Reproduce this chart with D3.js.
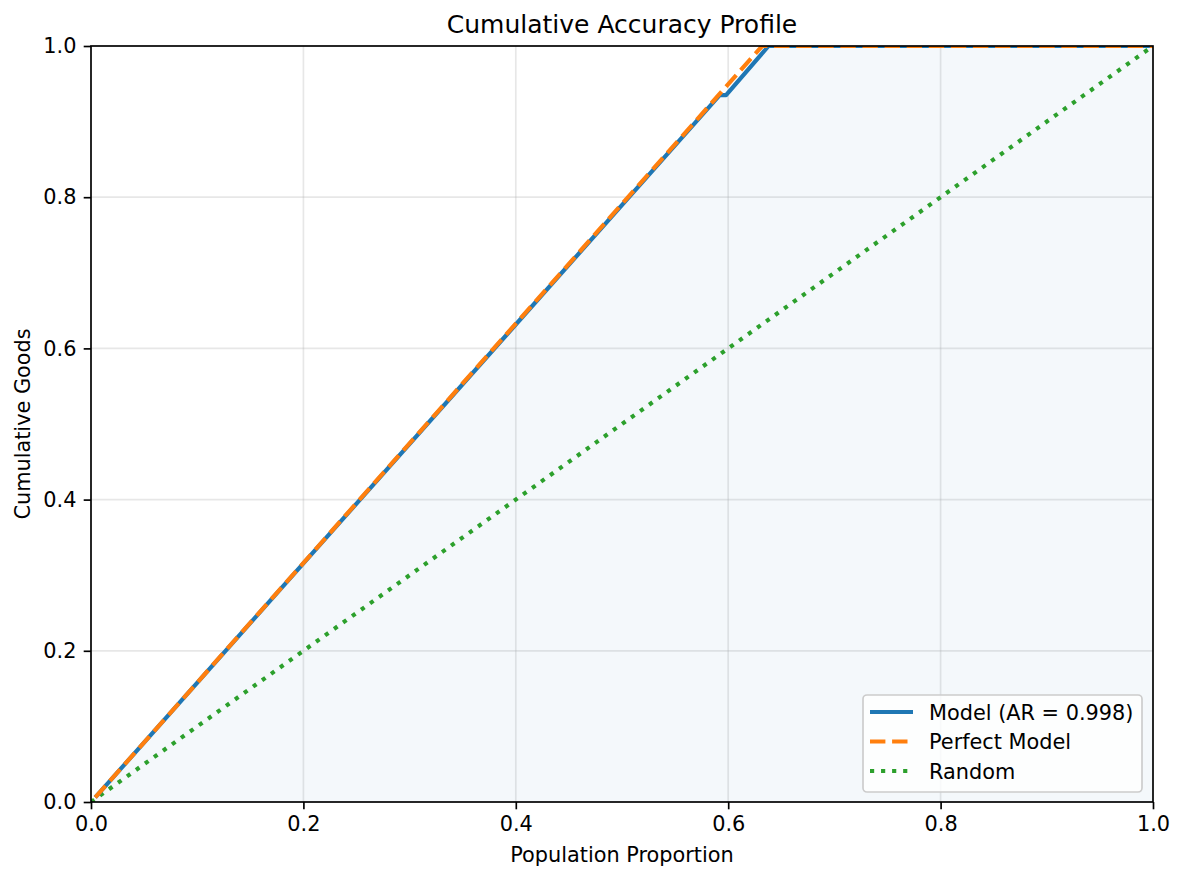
<!DOCTYPE html>
<html>
<head>
<meta charset="utf-8">
<script src="https://cdn.jsdelivr.net/npm/d3@7"></script>
<style>
  body { margin: 0; background: #fff; }
  svg text { font-family: "DejaVu Sans", sans-serif; fill: #000; }
</style>
</head>
<body>
<div id="chart"></div>
<script>
// dati (proporzione popolazione, goods cumulati)
const modelX   = [0.004, 0.592, 0.598, 0.638, 1.0];
const modelY   = [0.006, 0.935, 0.935, 1.0, 1.0];
const perfectX = [0.004, 0.632, 1.0];
const perfectY = [0.006, 1.0, 1.0];
const randomX  = [0.0, 1.0];
const randomY  = [0.0, 1.0];
const tickVals = [0, 0.2, 0.4, 0.6, 0.8, 1.0];
const legendLabels = ['Model (AR = 0.998)', 'Perfect Model', 'Random'];

const W = 1184, H = 881;
const margin = { left: 91, right: 31, top: 46, bottom: 79 };
const width = W - margin.left - margin.right;
const height = H - margin.top - margin.bottom;
const fs = 20.83;

const svg = d3.select('#chart').append('svg')
    .attr('width', W).attr('height', H);

const g = svg.append('g')
    .attr('transform', `translate(${margin.left},${margin.top})`);

const x = d3.scaleLinear().domain([0, 1]).range([0, width]);
const y = d3.scaleLinear().domain([0, 1]).range([height, 0]);

const zip = (xs, ys) => xs.map((v, i) => [v, ys[i]]);
const line = d3.line().x(d => x(d[0])).y(d => y(d[1]));

// griglia
g.append('g').selectAll('line.gx').data(tickVals).join('line')
    .attr('x1', d => x(d)).attr('x2', d => x(d))
    .attr('y1', 0).attr('y2', height)
    .attr('stroke', '#b0b0b0').attr('stroke-opacity', 0.3).attr('stroke-width', 1.67);
g.append('g').selectAll('line.gy').data(tickVals).join('line')
    .attr('y1', d => y(d)).attr('y2', d => y(d))
    .attr('x1', 0).attr('x2', width)
    .attr('stroke', '#b0b0b0').attr('stroke-opacity', 0.3).attr('stroke-width', 1.67);

// area sotto il modello
const area = d3.area().x(d => x(d[0])).y0(y(0)).y1(d => y(d[1]));
g.append('path')
    .datum([[0, 0]].concat(zip(modelX, modelY)))
    .attr('d', area)
    .attr('fill', '#1f77b4').attr('fill-opacity', 0.05);

const clip = svg.append('clipPath').attr('id', 'clip')
    .append('rect').attr('width', width).attr('height', height);

const lines = g.append('g').attr('clip-path', 'url(#clip)');

lines.append('path').datum(zip(randomX, randomY)).attr('d', line)
    .attr('fill', 'none').attr('stroke', '#2ca02c').attr('stroke-width', 4.17)
    .attr('stroke-dasharray', '4.17,6.88');

lines.append('path').datum(zip(modelX, modelY)).attr('d', line)
    .attr('fill', 'none').attr('stroke', '#1f77b4').attr('stroke-width', 4.17)
    .attr('stroke-linejoin', 'round');

lines.append('path').datum(zip(perfectX, perfectY)).attr('d', line)
    .attr('fill', 'none').attr('stroke', '#ff7f0e').attr('stroke-width', 4.17)
    .attr('stroke-dasharray', '15.4,6.7');

// assi
const xAxis = g.append('g').attr('transform', `translate(0,${height})`)
    .call(d3.axisBottom(x).tickValues(tickVals).tickFormat(d3.format('.1f'))
        .tickSize(7.3).tickPadding(7.3));
const yAxis = g.append('g')
    .call(d3.axisLeft(y).tickValues(tickVals).tickFormat(d3.format('.1f'))
        .tickSize(7.3).tickPadding(7.3));

[xAxis, yAxis].forEach(a => {
    a.select('.domain').remove();
    a.selectAll('line').attr('stroke', '#000').attr('stroke-width', 1.67);
    a.selectAll('text').attr('font-size', fs).attr('font-family', '"DejaVu Sans", sans-serif');
});

// bordo
g.append('rect').attr('width', width).attr('height', height)
    .attr('fill', 'none').attr('stroke', '#000').attr('stroke-width', 1.67);

// titoli
svg.append('text').attr('x', margin.left + width / 2).attr('y', 33)
    .attr('text-anchor', 'middle').attr('font-size', 25)
    .text('Cumulative Accuracy Profile');
svg.append('text').attr('x', margin.left + width / 2).attr('y', 862)
    .attr('text-anchor', 'middle').attr('font-size', fs)
    .text('Population Proportion');
svg.append('text')
    .attr('transform', `translate(30,${margin.top + height / 2}) rotate(-90)`)
    .attr('text-anchor', 'middle').attr('font-size', fs)
    .text('Cumulative Goods');

// legenda
const legend = svg.append('g').attr('transform', 'translate(863,695)');
legend.append('rect').attr('width', 279).attr('height', 97)
    .attr('rx', 4).attr('fill', '#fff').attr('fill-opacity', 0.8)
    .attr('stroke', '#cccccc').attr('stroke-width', 1.67);

const legendData = [
    { label: legendLabels[0], color: '#1f77b4', dash: null },
    { label: legendLabels[1], color: '#ff7f0e', dash: '15.4,6.7' },
    { label: legendLabels[2], color: '#2ca02c', dash: '4.17,6.88' }
];
legend.selectAll('g.item').data(legendData).join('g')
    .attr('transform', (d, i) => `translate(0,${17 + i * 29.5})`)
    .each(function(d) {
        const it = d3.select(this);
        it.append('line').attr('x1', 7).attr('x2', 50)
            .attr('stroke', d.color).attr('stroke-width', 4.17)
            .attr('stroke-dasharray', d.dash);
        it.append('text').attr('x', 66).attr('y', 7.5)
            .attr('font-size', fs).text(d.label);
    });
</script>
</body>
</html>
